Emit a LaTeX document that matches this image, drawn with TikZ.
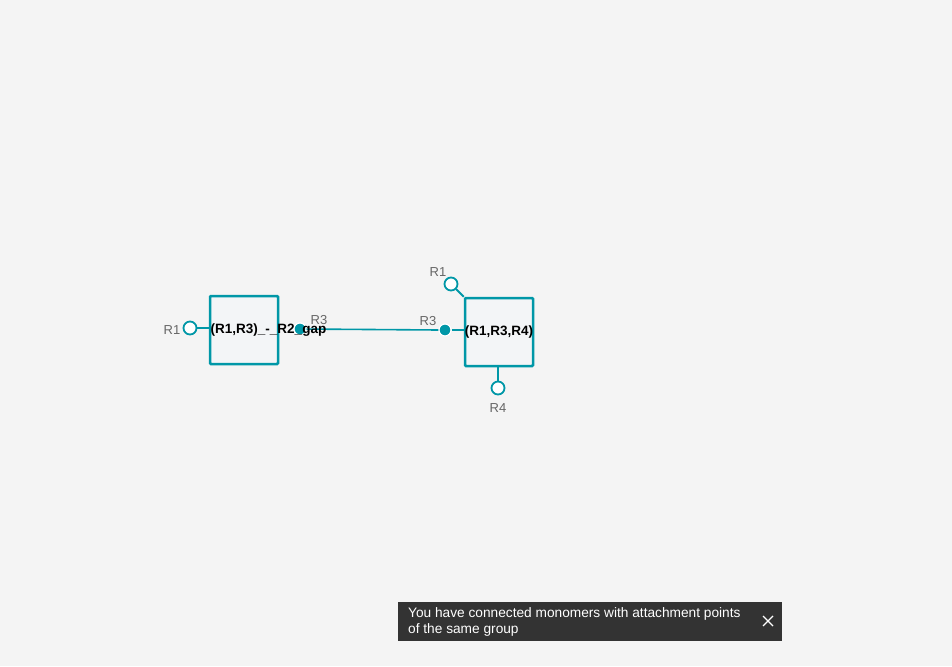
\documentclass[tikz,border=0pt]{standalone}
\usepackage{fontspec}
\setmainfont{Liberation Sans}
\begin{document}
\definecolor{canvas}{HTML}{F4F4F4}
\definecolor{teal}{HTML}{0097A7}
\definecolor{boxfill}{HTML}{F3F5F7}
\definecolor{labelgray}{HTML}{666666}
\definecolor{toastbg}{HTML}{333333}
\begin{tikzpicture}[x=1pt,y=-1pt,
  monomer/.style={draw=teal,fill=boxfill,line width=2.5pt,minimum width=68pt,minimum height=68pt,inner sep=0pt,rounded corners=1pt},
  monolabel/.style={font=\fontsize{13.5}{15}\selectfont\bfseries,text=black,inner sep=0pt},
  openap/.style={circle,draw=teal,fill=white,line width=1.8pt,minimum size=13pt,inner sep=0pt},
  fullap/.style={circle,draw=white,fill=teal,line width=1.2pt,minimum size=12pt,inner sep=0pt},
  aplabel/.style={font=\fontsize{13}{15}\selectfont,text=labelgray,inner sep=0pt},
  apline/.style={draw=teal,line width=1.8pt},
  bond/.style={draw=teal,line width=1.6pt}]
\fill[canvas] (0,0) rectangle (952,666);
\useasboundingbox (0,0) rectangle (952,666);

% first monomer and its attachment points
\node[monomer] (m1) at (244,330) {};
\node[openap] (m1r1) at (190,328) {};
\coordinate (m1r1e) at (210,328);
\draw[apline] (m1r1) -- (m1r1e);
\node[aplabel] (m1r1l) at (172,330) {R1};

% second monomer and its attachment points
\node[monomer] (m2) at (499,332) {};
\node[openap] (m2r1) at (451,284) {};
\draw[apline] (m2r1) -- (m2.north west);
\node[aplabel] (m2r1l) at (438,272) {R1};
\node[openap] (m2r4) at (498,388) {};
\coordinate (m2r4e) at (498,366);
\draw[apline] (m2r4) -- (m2r4e);
\node[aplabel] (m2r4l) at (498,408) {R4};
\coordinate (m2r3e) at (465,330);

% bond between the R3 points
\node[fullap] (m1r3) at (300,329) {};
\node[fullap] (m2r3) at (445,330) {};
\draw[apline] (m2r3) -- (m2r3e);
\draw[bond] (m1r3.center) -- (m2r3.west);
\node[fullap] at (300,329) {};
\node[aplabel] (m1r3l) at (319,320) {R3};
\node[aplabel] (m2r3l) at (428,321) {R3};

% monomer names
\node[monolabel] (m1t) at (268.5,330.5) {(R1,R3)\_-\_R2\_gap};
\node[monolabel] (m2t) at (499,332.5) {(R1,R3,R4)};

% notification bar
\fill[toastbg] (398,602) rectangle (782,641);
\node[anchor=west,font=\fontsize{13.7}{16}\selectfont,text=white,inner sep=0pt,align=left] (msg) at (408,621.5)
  {You have connected monomers with attachment points\\of the same group};
\draw[white,line width=1.3pt] (763,616) -- (773,626) (763,626) -- (773,616);
\end{tikzpicture}
\end{document}
